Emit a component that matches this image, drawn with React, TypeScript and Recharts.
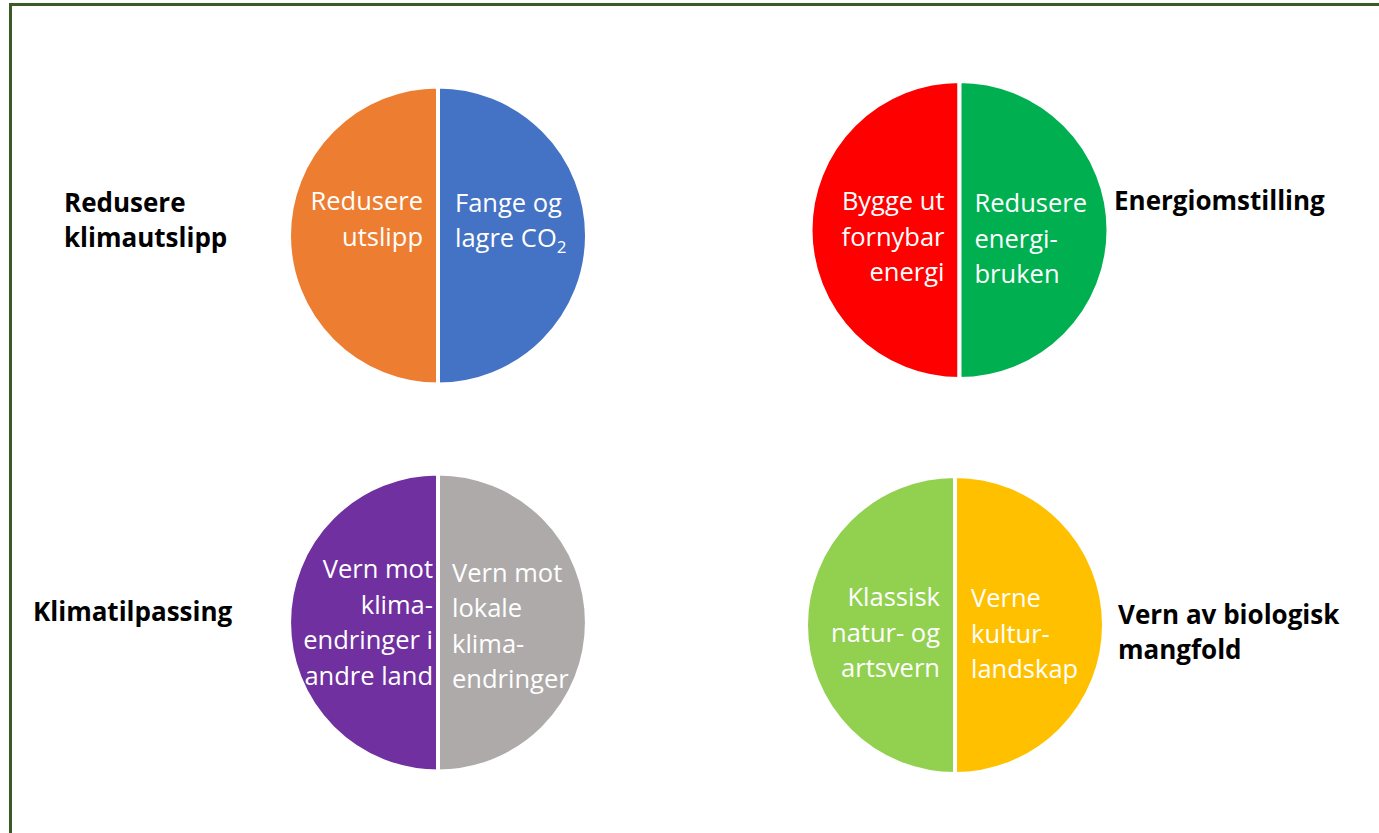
import React from 'react';
import { PieChart, Pie, Cell } from 'recharts';

// Four two-part pies, each half worth the same
const GROUP_TITLES = ['Redusere\nklimautslipp', 'Energiomstilling', 'Klimatilpassing', 'Vern av biologisk\nmangfold'];
const LEFT_LABELS = ['Redusere\nutslipp', 'Bygge ut\nfornybar\nenergi', 'Vern mot\nklima-\nendringer i\nandre land', 'Klassisk\nnatur- og\nartsvern'];
const RIGHT_LABELS = ['Fange og\nlagre CO_2', 'Redusere\nenergi-\nbruken', 'Vern mot\nlokale\nklima-\nendringer', 'Verne\nkultur-\nlandskap'];
const LEFT_VALUES = [50, 50, 50, 50];
const RIGHT_VALUES = [50, 50, 50, 50];

const LEFT_COLORS = ['#ED7D31', '#FF0000', '#7030A0', '#92D050'];
const RIGHT_COLORS = ['#4472C4', '#00B050', '#AEAAAA', '#FFC000'];

const WIDTH = 1379;
const HEIGHT = 833;
const RADIUS = 149;
const LINE_H = 35.5;
const FONT = '"Open Sans", "Noto Sans", sans-serif';

// centre of each pie and where its labels sit
const PIE_LAYOUT = [
  { cx: 438, cy: 235.5, left: { dx: -15, dy: -25.5 }, right: { dx: 17, dy: -24 } },
  { cx: 959.5, cy: 230, left: { dx: -15, dy: -20 }, right: { dx: 15, dy: -18 } },
  { cx: 438, cy: 622.5, left: { dx: -5, dy: -44.5 }, right: { dx: 14, dy: -41 } },
  { cx: 955, cy: 625, left: { dx: -15, dy: -19 }, right: { dx: 16, dy: -18 } },
];
const TITLE_POS = [
  { x: 64, y: 212 },
  { x: 1114, y: 209.5 },
  { x: 33, y: 620.5 },
  { x: 1118, y: 624 },
];

const pies = GROUP_TITLES.map((title, i) => [
  { name: LEFT_LABELS[i], value: LEFT_VALUES[i], fill: LEFT_COLORS[i] },
  { name: RIGHT_LABELS[i], value: RIGHT_VALUES[i], fill: RIGHT_COLORS[i] },
]);

function lineParts(line: string) {
  // "CO_2" -> CO with subscript 2
  const [main, sub] = line.split('_');
  return (
    <>
      {main}
      {sub && (
        <tspan fontSize={17} dy={6}>{sub}</tspan>
      )}
    </>
  );
}

function makeLabel(pieIdx: number) {
  return (props: any) => {
    const lay = PIE_LAYOUT[pieIdx];
    const isLeft = props.index === 0;
    const off = isLeft ? lay.left : lay.right;
    const x = lay.cx + off.dx;
    const y = lay.cy + off.dy;
    const lines = String(props.name).split('\n');
    return (
      <text
        x={x}
        y={y}
        textAnchor={isLeft ? 'end' : 'start'}
        fill="#ffffff"
        fontSize={25.5}
        fontFamily={FONT}
      >
        {lines.map((ln, k) => (
          <tspan key={k} x={x} y={y + k * LINE_H}>
            {lineParts(ln)}
          </tspan>
        ))}
      </text>
    );
  };
}

export default function App() {
  return (
    <div style={{ position: 'absolute', left: 0, top: 0, width: WIDTH, height: HEIGHT, overflow: 'hidden', background: '#fff' }}>
      <div
        style={{
          position: 'absolute',
          left: 9,
          top: 3,
          width: WIDTH + 20,
          height: HEIGHT + 20,
          borderTop: '3px solid #3A5A27',
          borderLeft: '3px solid #3A5A27',
        }}
      />
      <div style={{ position: 'absolute', left: 0, top: 0 }}>
        <PieChart width={WIDTH} height={HEIGHT} margin={{ top: 0, right: 0, bottom: 0, left: 0 }}>
          {pies.map((data, i) => (
            <Pie
              key={i}
              data={data}
              dataKey="value"
              nameKey="name"
              cx={PIE_LAYOUT[i].cx}
              cy={PIE_LAYOUT[i].cy}
              outerRadius={RADIUS}
              startAngle={90}
              endAngle={450}
              stroke="#ffffff"
              strokeWidth={4}
              labelLine={false}
              label={makeLabel(i)}
              isAnimationActive={false}
            >
              {data.map((d, k) => (
                <Cell key={k} fill={d.fill} />
              ))}
            </Pie>
          ))}
        </PieChart>
      </div>
      <svg width={WIDTH} height={HEIGHT} style={{ position: 'absolute', left: 0, top: 0, pointerEvents: 'none' }}>
        {GROUP_TITLES.map((t, i) => (
          <text key={i} x={TITLE_POS[i].x} y={TITLE_POS[i].y} fontSize={26} fontWeight="bold" fontFamily={FONT} fill="#000">
            {t.split('\n').map((ln, k) => (
              <tspan key={k} x={TITLE_POS[i].x} y={TITLE_POS[i].y + k * 34.5}>
                {ln}
              </tspan>
            ))}
          </text>
        ))}
      </svg>
    </div>
  );
}
